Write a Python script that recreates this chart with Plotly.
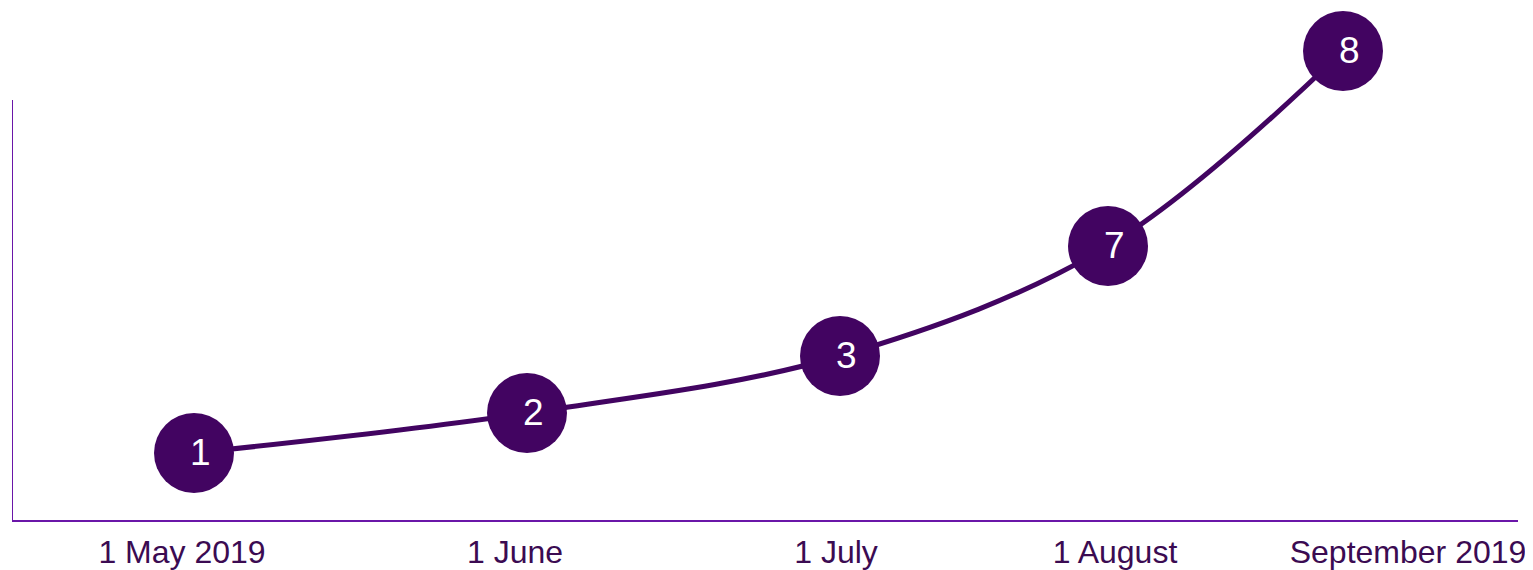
import plotly.graph_objects as go

# Data
x_pos = [182, 515, 828, 1096, 1331]          # position along the timeline
y_vals = [67, 107, 164, 274, 469]            # plotted level
counts = ["1", "2", "3", "7", "8"]           # labels shown in the circles
tick_pos = [170, 503, 824, 1103, 1396]
tick_labels = ["1 May 2019", "1 June", "1 July", "1 August", "September 2019"]

LINE = "#420461"
AXIS = "#6a16a8"
TXT = "#3b0b52"
FONT = "Liberation Sans, Arial, sans-serif"

fig = go.Figure()
fig.add_trace(go.Scatter(
    x=x_pos, y=y_vals,
    mode="lines+markers",
    line=dict(color=LINE, width=5, shape="spline", smoothing=1),
    marker=dict(size=80, color=LINE, line=dict(width=0)),
    cliponaxis=False,
    hoverinfo="skip",
))

for xv, yv, c in zip(x_pos, y_vals, counts):
    fig.add_annotation(x=xv, y=yv, text=c, showarrow=False, xshift=6, yshift=1,
                       font=dict(color="white", size=37, family=FONT))

# vertical axis line (shorter than plot area)
fig.add_shape(type="line", xref="x", yref="y", x0=0, x1=0, y0=0, y1=420,
              line=dict(color=AXIS, width=2))

fig.update_layout(
    width=1525, height=562,
    margin=dict(l=4, r=15, t=0, b=50),
    plot_bgcolor="white", paper_bgcolor="white",
    showlegend=False,
    font=dict(family=FONT, color=TXT, size=32),
)
fig.update_xaxes(
    range=[0, 1506], showgrid=False, zeroline=False, automargin=False,
    showline=True, linecolor=AXIS, linewidth=2,
    tickmode="array", tickvals=tick_pos, ticktext=tick_labels,
    ticks="outside", ticklen=3, tickcolor="rgba(0,0,0,0)",
    tickfont=dict(size=32, color=TXT, family=FONT),
)
fig.update_yaxes(
    range=[0, 512], showgrid=False, zeroline=False, automargin=False,
    showline=False, showticklabels=False, ticks="",
)

fig.write_html("out.html")
